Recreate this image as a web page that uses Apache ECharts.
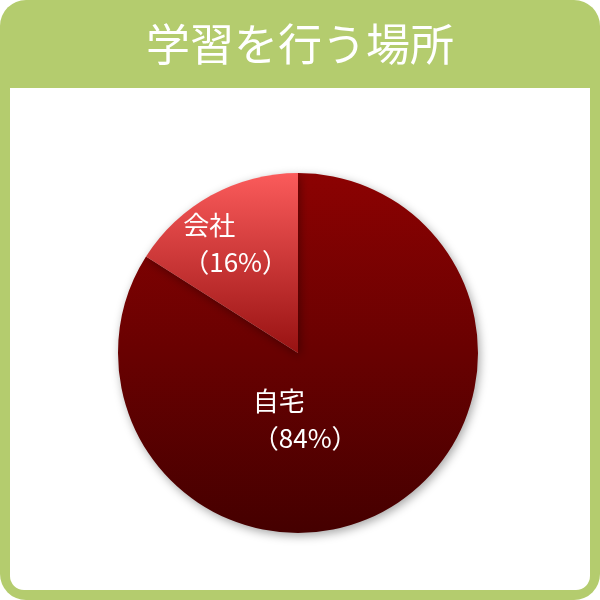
<!DOCTYPE html>
<html>
<head>
<meta charset="utf-8">
<style>html,body{margin:0;padding:0;background:#fff}#c{width:600px;height:600px}</style>
<script src="https://cdn.jsdelivr.net/npm/echarts@6/dist/echarts.min.js"></script>
</head>
<body>
<div id="c"></div>
<script>
const titleText = '学習を行う場所';
const categories = ['自宅', '会社'];
const values = [84, 16];

const gradients = [
  ['#8c0202', '#450000'],
  ['#fb5b5b', '#981212']
];
const labelOffsets = [[-45, -15], [-25, -28]];

const chart = echarts.init(document.getElementById('c'), null, {renderer: 'canvas'});
const FONT = '"Noto Sans CJK JP", "Noto Sans", sans-serif';

const data = categories.map((name, i) => ({
  name: name,
  value: values[i],
  itemStyle: {
    color: {
      type: 'linear', x: 0, y: 0, x2: 0, y2: 1,
      colorStops: [{offset: 0, color: gradients[i][0]}, {offset: 1, color: gradients[i][1]}]
    }
  },
  label: {offset: labelOffsets[i]}
}));

chart.setOption({
  animation: false,
  graphic: [
    {type: 'rect', z: -10, shape: {x: 0, y: 0, width: 600, height: 600, r: 26}, style: {fill: '#b4cc6e'}},
    {type: 'rect', z: -9, shape: {x: 10, y: 88, width: 580, height: 502, r: [0, 0, 14, 14]}, style: {fill: '#ffffff'}}
  ],
  title: {
    text: titleText,
    left: 'center',
    top: 17,
    textStyle: {color: '#ffffff', fontSize: 44, fontWeight: 'normal', fontFamily: FONT}
  },
  series: [{
    type: 'pie',
    center: [298, 353],
    radius: 180,
    startAngle: 90,
    clockwise: true,
    emphasis: {disabled: true},
    itemStyle: {
      shadowBlur: 10,
      shadowColor: 'rgba(0,0,0,0.35)',
      shadowOffsetX: 2,
      shadowOffsetY: 3
    },
    label: {
      show: true,
      position: 'inside',
      formatter: '{a|{b}}\n{a|（{c}%）}',
      rich: {
        a: {width: 90, align: 'left', color: '#ffffff', fontSize: 26, fontWeight: 'normal', lineHeight: 37, fontFamily: FONT}
      }
    },
    labelLine: {show: false},
    data: data
  }]
});
</script>
</body>
</html>
